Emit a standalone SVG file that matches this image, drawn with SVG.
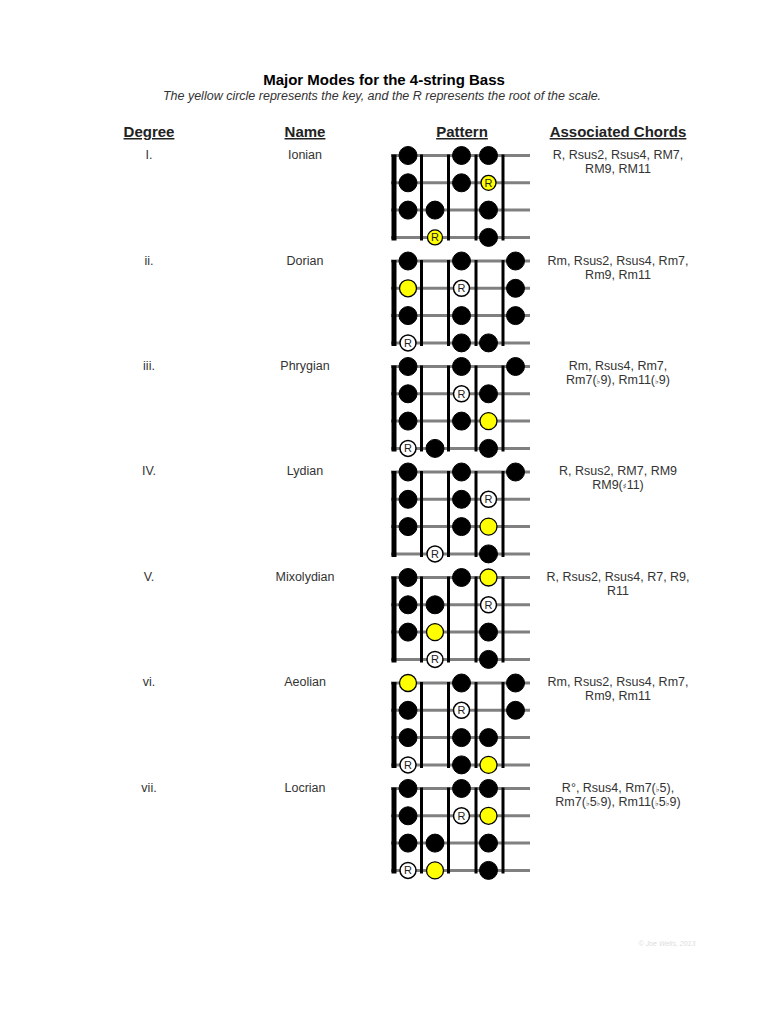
<svg xmlns="http://www.w3.org/2000/svg" width="768" height="1024" viewBox="0 0 768 1024">
<style>
text{font-family:"Liberation Sans",Arial,sans-serif}
.title{font-size:15px;font-weight:bold;fill:#000}
.sub{font-size:12.5px;font-style:italic;fill:#333}
.hdr{font-size:15px;font-weight:bold;fill:#222;text-decoration:underline}
.lbl{font-size:12.5px;fill:#333}
.sym{font-family:"DejaVu Sans",sans-serif;font-size:8px;fill:#333}
.copy{font-size:7px;font-style:italic;fill:#ddd}
.str{stroke:#808080;stroke-width:3}
.nut{stroke:#000;stroke-width:5}
.fret{stroke:#000;stroke-width:3}
.b{fill:#000;stroke:#000;stroke-width:1}
.y{fill:#ffff00;stroke:#000;stroke-width:1.3}
.w{fill:#fff;stroke:#000;stroke-width:1.5}
.r{font-size:11px;fill:#222;text-anchor:middle}
</style>
<defs>
<g id="board">
<line class="str" x1="391" y1="0" x2="530" y2="0"/>
<line class="str" x1="391" y1="27.3" x2="530" y2="27.3"/>
<line class="str" x1="391" y1="54.6" x2="530" y2="54.6"/>
<line class="str" x1="391" y1="81.9" x2="530" y2="81.9"/>
<line class="nut" x1="394" y1="-1" x2="394" y2="85"/>
<line class="fret" x1="421.5" y1="-1" x2="421.5" y2="85"/>
<line class="fret" x1="448.5" y1="-1" x2="448.5" y2="85"/>
<line class="fret" x1="476" y1="-1" x2="476" y2="85"/>
<line class="fret" x1="503" y1="-1" x2="503" y2="85"/>
</g>
</defs>
<text class="title" x="384" y="85" text-anchor="middle">Major Modes for the 4-string Bass</text>
<text class="sub" x="382" y="100" text-anchor="middle">The yellow circle represents the key, and the R represents the root of the scale.</text>
<g id="headers">
<text class="hdr" x="149" y="137" text-anchor="middle">Degree</text>
<text class="hdr" x="305" y="137" text-anchor="middle">Name</text>
<text class="hdr" x="462" y="137" text-anchor="middle">Pattern</text>
<text class="hdr" x="618" y="137" text-anchor="middle">Associated Chords</text>
</g>
<g id="mode-ionian">
<text class="lbl" x="149" y="159" text-anchor="middle">I.</text>
<text class="lbl" x="305" y="159" text-anchor="middle">Ionian</text>
<text class="lbl" x="618" y="159" text-anchor="middle">R, Rsus2, Rsus4, RM7,</text>
<text class="lbl" x="618" y="173" text-anchor="middle">RM9, RM11</text>
<g transform="translate(0,155.5)">
<use href="#board"/>
<circle class="b" cx="408" cy="0" r="9"/><circle class="b" cx="461.5" cy="0" r="9"/><circle class="b" cx="488.5" cy="0" r="9"/>
<circle class="b" cx="408" cy="27.3" r="9"/><circle class="b" cx="461.5" cy="27.3" r="9"/>
<circle class="y" cx="488.5" cy="27.3" r="7.5"/><text class="r" x="488.5" y="31.3">R</text>
<circle class="b" cx="408" cy="54.6" r="9"/><circle class="b" cx="435" cy="54.6" r="9"/><circle class="b" cx="488.5" cy="54.6" r="9"/>
<circle class="y" cx="435" cy="81.9" r="7.5"/><text class="r" x="435" y="85.9">R</text>
<circle class="b" cx="488.5" cy="81.9" r="9"/>
</g>
</g>
<g id="mode-dorian">
<text class="lbl" x="149" y="265" text-anchor="middle">ii.</text>
<text class="lbl" x="305" y="265" text-anchor="middle">Dorian</text>
<text class="lbl" x="618" y="265" text-anchor="middle">Rm, Rsus2, Rsus4, Rm7,</text>
<text class="lbl" x="618" y="279" text-anchor="middle">Rm9, Rm11</text>
<g transform="translate(0,261)">
<use href="#board"/>
<circle class="b" cx="408" cy="0" r="9"/><circle class="b" cx="461.5" cy="0" r="9"/><circle class="b" cx="515.5" cy="0" r="9"/>
<circle class="y" cx="408" cy="27.3" r="8.5"/>
<circle class="w" cx="461.5" cy="27.3" r="8"/><text class="r" x="461.5" y="31.3">R</text>
<circle class="b" cx="515.5" cy="27.3" r="9"/>
<circle class="b" cx="408" cy="54.6" r="9"/><circle class="b" cx="461.5" cy="54.6" r="9"/><circle class="b" cx="515.5" cy="54.6" r="9"/>
<circle class="w" cx="408" cy="81.9" r="8"/><text class="r" x="408" y="85.9">R</text>
<circle class="b" cx="461.5" cy="81.9" r="9"/><circle class="b" cx="488.5" cy="81.9" r="9"/>
</g>
</g>
<g id="mode-phrygian">
<text class="lbl" x="149" y="370" text-anchor="middle">iii.</text>
<text class="lbl" x="305" y="370" text-anchor="middle">Phrygian</text>
<text class="lbl" x="618" y="370" text-anchor="middle">Rm, Rsus4, Rm7,</text>
<text class="lbl" x="618" y="384" text-anchor="middle">Rm7(<tspan class="sym">♭</tspan>9), Rm11(<tspan class="sym">♭</tspan>9)</text>
<g transform="translate(0,366.5)">
<use href="#board"/>
<circle class="b" cx="408" cy="0" r="9"/><circle class="b" cx="461.5" cy="0" r="9"/><circle class="b" cx="515.5" cy="0" r="9"/>
<circle class="b" cx="408" cy="27.3" r="9"/>
<circle class="w" cx="461.5" cy="27.3" r="8"/><text class="r" x="461.5" y="31.3">R</text>
<circle class="b" cx="488.5" cy="27.3" r="9"/>
<circle class="b" cx="408" cy="54.6" r="9"/><circle class="b" cx="461.5" cy="54.6" r="9"/><circle class="y" cx="488.5" cy="54.6" r="8.5"/>
<circle class="w" cx="408" cy="81.9" r="8"/><text class="r" x="408" y="85.9">R</text>
<circle class="b" cx="435" cy="81.9" r="9"/><circle class="b" cx="488.5" cy="81.9" r="9"/>
</g>
</g>
<g id="mode-lydian">
<text class="lbl" x="149" y="475" text-anchor="middle">IV.</text>
<text class="lbl" x="305" y="475" text-anchor="middle">Lydian</text>
<text class="lbl" x="618" y="475" text-anchor="middle">R, Rsus2, RM7, RM9</text>
<text class="lbl" x="618" y="489" text-anchor="middle">RM9(<tspan class="sym">♯</tspan>11)</text>
<g transform="translate(0,472)">
<use href="#board"/>
<circle class="b" cx="408" cy="0" r="9"/><circle class="b" cx="461.5" cy="0" r="9"/><circle class="b" cx="515.5" cy="0" r="9"/>
<circle class="b" cx="408" cy="27.3" r="9"/><circle class="b" cx="461.5" cy="27.3" r="9"/>
<circle class="w" cx="488.5" cy="27.3" r="8"/><text class="r" x="488.5" y="31.3">R</text>
<circle class="b" cx="408" cy="54.6" r="9"/><circle class="b" cx="461.5" cy="54.6" r="9"/><circle class="y" cx="488.5" cy="54.6" r="8.5"/>
<circle class="w" cx="435" cy="81.9" r="8"/><text class="r" x="435" y="85.9">R</text>
<circle class="b" cx="488.5" cy="81.9" r="9"/>
</g>
</g>
<g id="mode-mixolydian">
<text class="lbl" x="149" y="581" text-anchor="middle">V.</text>
<text class="lbl" x="305" y="581" text-anchor="middle">Mixolydian</text>
<text class="lbl" x="618" y="581" text-anchor="middle">R, Rsus2, Rsus4, R7, R9,</text>
<text class="lbl" x="618" y="595" text-anchor="middle">R11</text>
<g transform="translate(0,577.5)">
<use href="#board"/>
<circle class="b" cx="408" cy="0" r="9"/><circle class="b" cx="461.5" cy="0" r="9"/><circle class="y" cx="488.5" cy="0" r="8.5"/>
<circle class="b" cx="408" cy="27.3" r="9"/><circle class="b" cx="435" cy="27.3" r="9"/>
<circle class="w" cx="488.5" cy="27.3" r="8"/><text class="r" x="488.5" y="31.3">R</text>
<circle class="b" cx="408" cy="54.6" r="9"/><circle class="y" cx="435" cy="54.6" r="8.5"/><circle class="b" cx="488.5" cy="54.6" r="9"/>
<circle class="w" cx="435" cy="81.9" r="8"/><text class="r" x="435" y="85.9">R</text>
<circle class="b" cx="488.5" cy="81.9" r="9"/>
</g>
</g>
<g id="mode-aeolian">
<text class="lbl" x="149" y="686" text-anchor="middle">vi.</text>
<text class="lbl" x="305" y="686" text-anchor="middle">Aeolian</text>
<text class="lbl" x="618" y="686" text-anchor="middle">Rm, Rsus2, Rsus4, Rm7,</text>
<text class="lbl" x="618" y="700" text-anchor="middle">Rm9, Rm11</text>
<g transform="translate(0,683)">
<use href="#board"/>
<circle class="y" cx="408" cy="0" r="8.5"/><circle class="b" cx="461.5" cy="0" r="9"/><circle class="b" cx="515.5" cy="0" r="9"/>
<circle class="b" cx="408" cy="27.3" r="9"/>
<circle class="w" cx="461.5" cy="27.3" r="8"/><text class="r" x="461.5" y="31.3">R</text>
<circle class="b" cx="515.5" cy="27.3" r="9"/>
<circle class="b" cx="408" cy="54.6" r="9"/><circle class="b" cx="461.5" cy="54.6" r="9"/><circle class="b" cx="488.5" cy="54.6" r="9"/>
<circle class="w" cx="408" cy="81.9" r="8"/><text class="r" x="408" y="85.9">R</text>
<circle class="b" cx="461.5" cy="81.9" r="9"/><circle class="y" cx="488.5" cy="81.9" r="8.5"/>
</g>
</g>
<g id="mode-locrian">
<text class="lbl" x="149" y="792" text-anchor="middle">vii.</text>
<text class="lbl" x="305" y="792" text-anchor="middle">Locrian</text>
<text class="lbl" x="618" y="792" text-anchor="middle">R°, Rsus4, Rm7(<tspan class="sym">♭</tspan>5),</text>
<text class="lbl" x="618" y="806" text-anchor="middle">Rm7(<tspan class="sym">♭</tspan>5<tspan class="sym">♭</tspan>9), Rm11(<tspan class="sym">♭</tspan>5<tspan class="sym">♭</tspan>9)</text>
<g transform="translate(0,788.5)">
<use href="#board"/>
<circle class="b" cx="408" cy="0" r="9"/><circle class="b" cx="461.5" cy="0" r="9"/><circle class="b" cx="488.5" cy="0" r="9"/>
<circle class="b" cx="408" cy="27.3" r="9"/>
<circle class="w" cx="461.5" cy="27.3" r="8"/><text class="r" x="461.5" y="31.3">R</text>
<circle class="y" cx="488.5" cy="27.3" r="8.5"/>
<circle class="b" cx="408" cy="54.6" r="9"/><circle class="b" cx="435" cy="54.6" r="9"/><circle class="b" cx="488.5" cy="54.6" r="9"/>
<circle class="w" cx="408" cy="81.9" r="8"/><text class="r" x="408" y="85.9">R</text>
<circle class="y" cx="435" cy="81.9" r="8.5"/><circle class="b" cx="488.5" cy="81.9" r="9"/>
</g>
</g>
<text class="copy" x="667" y="946" text-anchor="middle">© Joe Wells, 2013</text>
</svg>
